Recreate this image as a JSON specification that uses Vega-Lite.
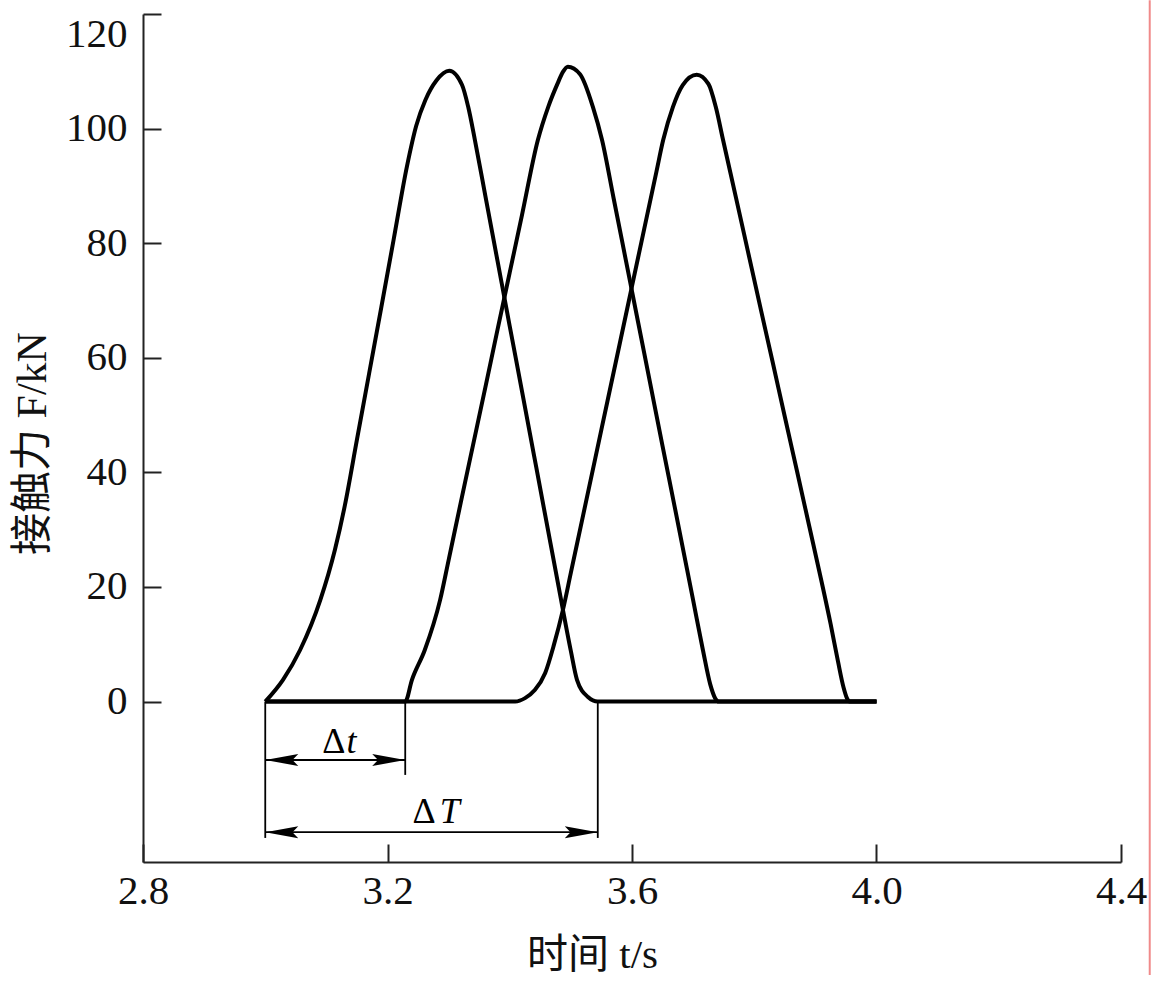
{
  "$schema": "https://vega.github.io/schema/vega-lite/v6.json",
  "autosize": {"type": "none"},
  "padding": {"left": 143, "top": 14, "right": 43, "bottom": 129},
  "width": 978,
  "height": 848,
  "config": {"view": {"stroke": null}, "font": "Liberation Serif"},
  "datasets": {
    "curves": [
      {"s": "1", "t": 3.0, "F": 0},
      {"s": "1", "t": 3.029, "F": 3.8},
      {"s": "1", "t": 3.057, "F": 9.0},
      {"s": "1", "t": 3.09, "F": 17.7},
      {"s": "1", "t": 3.114, "F": 26.5},
      {"s": "1", "t": 3.13, "F": 34.1},
      {"s": "1", "t": 3.15, "F": 45.7},
      {"s": "1", "t": 3.17, "F": 57.3},
      {"s": "1", "t": 3.19, "F": 68.9},
      {"s": "1", "t": 3.21, "F": 80.6},
      {"s": "1", "t": 3.232, "F": 93.5},
      {"s": "1", "t": 3.247, "F": 100.5},
      {"s": "1", "t": 3.262, "F": 105.0},
      {"s": "1", "t": 3.28, "F": 108.4},
      {"s": "1", "t": 3.301, "F": 110.1},
      {"s": "1", "t": 3.322, "F": 107.6},
      {"s": "1", "t": 3.332, "F": 103.8},
      {"s": "1", "t": 3.343, "F": 98.0},
      {"s": "1", "t": 3.36, "F": 88.3},
      {"s": "1", "t": 3.38, "F": 76.9},
      {"s": "1", "t": 3.4, "F": 65.5},
      {"s": "1", "t": 3.42, "F": 54.2},
      {"s": "1", "t": 3.44, "F": 42.8},
      {"s": "1", "t": 3.46, "F": 31.4},
      {"s": "1", "t": 3.48, "F": 20.0},
      {"s": "1", "t": 3.5, "F": 8.8},
      {"s": "1", "t": 3.51, "F": 3.8},
      {"s": "1", "t": 3.528, "F": 0.8},
      {"s": "1", "t": 3.544, "F": 0},
      {"s": "1", "t": 4.0, "F": 0},
      {"s": "2", "t": 3.0, "F": 0},
      {"s": "2", "t": 3.229, "F": 0},
      {"s": "2", "t": 3.24, "F": 3.8},
      {"s": "2", "t": 3.261, "F": 9.0},
      {"s": "2", "t": 3.286, "F": 17.7},
      {"s": "2", "t": 3.3, "F": 24.7},
      {"s": "2", "t": 3.32, "F": 34.8},
      {"s": "2", "t": 3.34, "F": 44.8},
      {"s": "2", "t": 3.36, "F": 54.8},
      {"s": "2", "t": 3.38, "F": 64.9},
      {"s": "2", "t": 3.4, "F": 74.9},
      {"s": "2", "t": 3.42, "F": 84.9},
      {"s": "2", "t": 3.446, "F": 98.0},
      {"s": "2", "t": 3.463, "F": 103.8},
      {"s": "2", "t": 3.478, "F": 107.8},
      {"s": "2", "t": 3.487, "F": 109.9},
      {"s": "2", "t": 3.495, "F": 110.8},
      {"s": "2", "t": 3.515, "F": 109.5},
      {"s": "2", "t": 3.536, "F": 103.8},
      {"s": "2", "t": 3.551, "F": 98.0},
      {"s": "2", "t": 3.57, "F": 87.8},
      {"s": "2", "t": 3.59, "F": 77.0},
      {"s": "2", "t": 3.61, "F": 66.2},
      {"s": "2", "t": 3.63, "F": 55.4},
      {"s": "2", "t": 3.65, "F": 44.6},
      {"s": "2", "t": 3.67, "F": 33.9},
      {"s": "2", "t": 3.69, "F": 23.1},
      {"s": "2", "t": 3.7, "F": 17.7},
      {"s": "2", "t": 3.716, "F": 9.0},
      {"s": "2", "t": 3.728, "F": 3.0},
      {"s": "2", "t": 3.736, "F": 0.6},
      {"s": "2", "t": 3.742, "F": 0},
      {"s": "2", "t": 4.0, "F": 0},
      {"s": "3", "t": 3.0, "F": 0},
      {"s": "3", "t": 3.409, "F": 0},
      {"s": "3", "t": 3.425, "F": 0.6},
      {"s": "3", "t": 3.441, "F": 2.0},
      {"s": "3", "t": 3.458, "F": 5.0},
      {"s": "3", "t": 3.472, "F": 9.8},
      {"s": "3", "t": 3.487, "F": 16.0},
      {"s": "3", "t": 3.5, "F": 22.5},
      {"s": "3", "t": 3.52, "F": 32.5},
      {"s": "3", "t": 3.54, "F": 42.5},
      {"s": "3", "t": 3.56, "F": 52.5},
      {"s": "3", "t": 3.58, "F": 62.5},
      {"s": "3", "t": 3.6, "F": 72.5},
      {"s": "3", "t": 3.62, "F": 82.5},
      {"s": "3", "t": 3.64, "F": 92.5},
      {"s": "3", "t": 3.651, "F": 98.0},
      {"s": "3", "t": 3.667, "F": 103.8},
      {"s": "3", "t": 3.683, "F": 107.6},
      {"s": "3", "t": 3.706, "F": 109.4},
      {"s": "3", "t": 3.725, "F": 107.8},
      {"s": "3", "t": 3.737, "F": 103.8},
      {"s": "3", "t": 3.749, "F": 98.0},
      {"s": "3", "t": 3.77, "F": 88.0},
      {"s": "3", "t": 3.79, "F": 78.4},
      {"s": "3", "t": 3.81, "F": 68.8},
      {"s": "3", "t": 3.83, "F": 59.3},
      {"s": "3", "t": 3.85, "F": 49.7},
      {"s": "3", "t": 3.87, "F": 40.2},
      {"s": "3", "t": 3.89, "F": 30.6},
      {"s": "3", "t": 3.91, "F": 21.0},
      {"s": "3", "t": 3.925, "F": 13.5},
      {"s": "3", "t": 3.937, "F": 7.0},
      {"s": "3", "t": 3.946, "F": 2.5},
      {"s": "3", "t": 3.952, "F": 0.5},
      {"s": "3", "t": 3.956, "F": 0},
      {"s": "3", "t": 4.0, "F": 0}
    ],
    "vlines": [
      {"t": 3.0, "F1": 0, "F2": -23.8},
      {"t": 3.229, "F1": 0, "F2": -12.8},
      {"t": 3.544, "F1": 0, "F2": -23.8}
    ],
    "hlines": [
      {"t1": 3.0, "t2": 3.229, "F": -10.2},
      {"t1": 3.0, "t2": 3.544, "F": -22.8}
    ],
    "leftHeads": [
      {"t": 3.0, "F": -10.2},
      {"t": 3.0, "F": -22.8}
    ],
    "rightHeads": [
      {"t": 3.229, "F": -10.2},
      {"t": 3.544, "F": -22.8}
    ],
    "deltas": [
      {"t": 3.112, "F": -9.0, "label": "Δ"},
      {"t": 3.26, "F": -21.2, "label": "Δ"}
    ],
    "vars": [
      {"t": 3.141, "F": -9.0, "label": "t"},
      {"t": 3.302, "F": -21.2, "label": "T"}
    ],
    "edge": [
      {"t": 4.447, "F1": 122.4, "F2": -47.7}
    ]
  },
  "layer": [
    {
      "data": {"name": "curves"},
      "mark": {"type": "line", "color": "black", "strokeWidth": 4, "interpolate": "monotone"},
      "encoding": {
        "x": {
          "field": "t", "type": "quantitative",
          "scale": {"domain": [2.8, 4.4], "nice": false, "zero": false},
          "axis": {
            "values": [2.8, 3.2, 3.6, 4.0, 4.4], "format": ".1f",
            "title": "时间 t/s", "grid": false, "labelFlush": false,
            "domainColor": "#222", "domainWidth": 2,
            "tickColor": "#222", "tickWidth": 2, "tickSize": -18,
            "labelFont": "Liberation Serif", "labelFontSize": 41, "labelColor": "#111", "labelPadding": 27,
            "titleFont": "Liberation Serif, Noto Sans CJK SC", "titleFontSize": 41, "titleFontWeight": "normal", "titleColor": "#111",
            "titleX": 449, "titleY": 93, "titleAlign": "center", "titleBaseline": "middle"
          }
        },
        "y": {
          "field": "F", "type": "quantitative",
          "scale": {"domain": [-28, 120], "nice": false, "zero": false},
          "axis": {
            "values": [0, 20, 40, 60, 80, 100, 120],
            "title": "接触力 F/kN", "grid": false, "labelFlush": false,
            "domainColor": "#222", "domainWidth": 2,
            "tickColor": "#222", "tickWidth": 2, "tickSize": -18,
            "labelFont": "Liberation Serif", "labelFontSize": 41, "labelColor": "#111", "labelPadding": 34,
            "labelBaseline": {"condition": {"test": "datum.value == 120", "value": "top"}, "value": "middle"},
            "titleFont": "Liberation Serif, Noto Sans CJK SC", "titleFontSize": 42, "titleFontWeight": "normal", "titleColor": "#111",
            "titleX": -111, "titleY": 429, "titleAlign": "center", "titleBaseline": "middle", "titleAngle": 270
          }
        },
        "detail": {"field": "s"}
      }
    },
    {
      "data": {"name": "vlines"},
      "mark": {"type": "rule", "color": "black", "strokeWidth": 1.8},
      "encoding": {
        "x": {"field": "t", "type": "quantitative"},
        "y": {"field": "F1", "type": "quantitative"},
        "y2": {"field": "F2"}
      }
    },
    {
      "data": {"name": "hlines"},
      "mark": {"type": "rule", "color": "black", "strokeWidth": 1.8},
      "encoding": {
        "x": {"field": "t1", "type": "quantitative"},
        "x2": {"field": "t2"},
        "y": {"field": "F", "type": "quantitative"}
      }
    },
    {
      "data": {"name": "leftHeads"},
      "mark": {"type": "point", "shape": "M0,0L2,-0.36L1.65,0L2,0.36Z", "size": 1089, "filled": true, "color": "black", "opacity": 1, "strokeWidth": 0},
      "encoding": {
        "x": {"field": "t", "type": "quantitative"},
        "y": {"field": "F", "type": "quantitative"}
      }
    },
    {
      "data": {"name": "rightHeads"},
      "mark": {"type": "point", "shape": "M0,0L-2,-0.36L-1.65,0L-2,0.36Z", "size": 1089, "filled": true, "color": "black", "opacity": 1, "strokeWidth": 0},
      "encoding": {
        "x": {"field": "t", "type": "quantitative"},
        "y": {"field": "F", "type": "quantitative"}
      }
    },
    {
      "data": {"name": "deltas"},
      "mark": {"type": "text", "font": "Liberation Serif", "fontSize": 36, "color": "black", "align": "center", "baseline": "alphabetic"},
      "encoding": {
        "x": {"field": "t", "type": "quantitative"},
        "y": {"field": "F", "type": "quantitative"},
        "text": {"field": "label"}
      }
    },
    {
      "data": {"name": "vars"},
      "mark": {"type": "text", "font": "Liberation Serif", "fontSize": 36, "fontStyle": "italic", "color": "black", "align": "center", "baseline": "alphabetic"},
      "encoding": {
        "x": {"field": "t", "type": "quantitative"},
        "y": {"field": "F", "type": "quantitative"},
        "text": {"field": "label"}
      }
    },
    {
      "data": {"name": "edge"},
      "mark": {"type": "rule", "color": "#f08a8a", "strokeWidth": 2},
      "encoding": {
        "x": {"field": "t", "type": "quantitative"},
        "y": {"field": "F1", "type": "quantitative"},
        "y2": {"field": "F2"}
      }
    }
  ]
}
